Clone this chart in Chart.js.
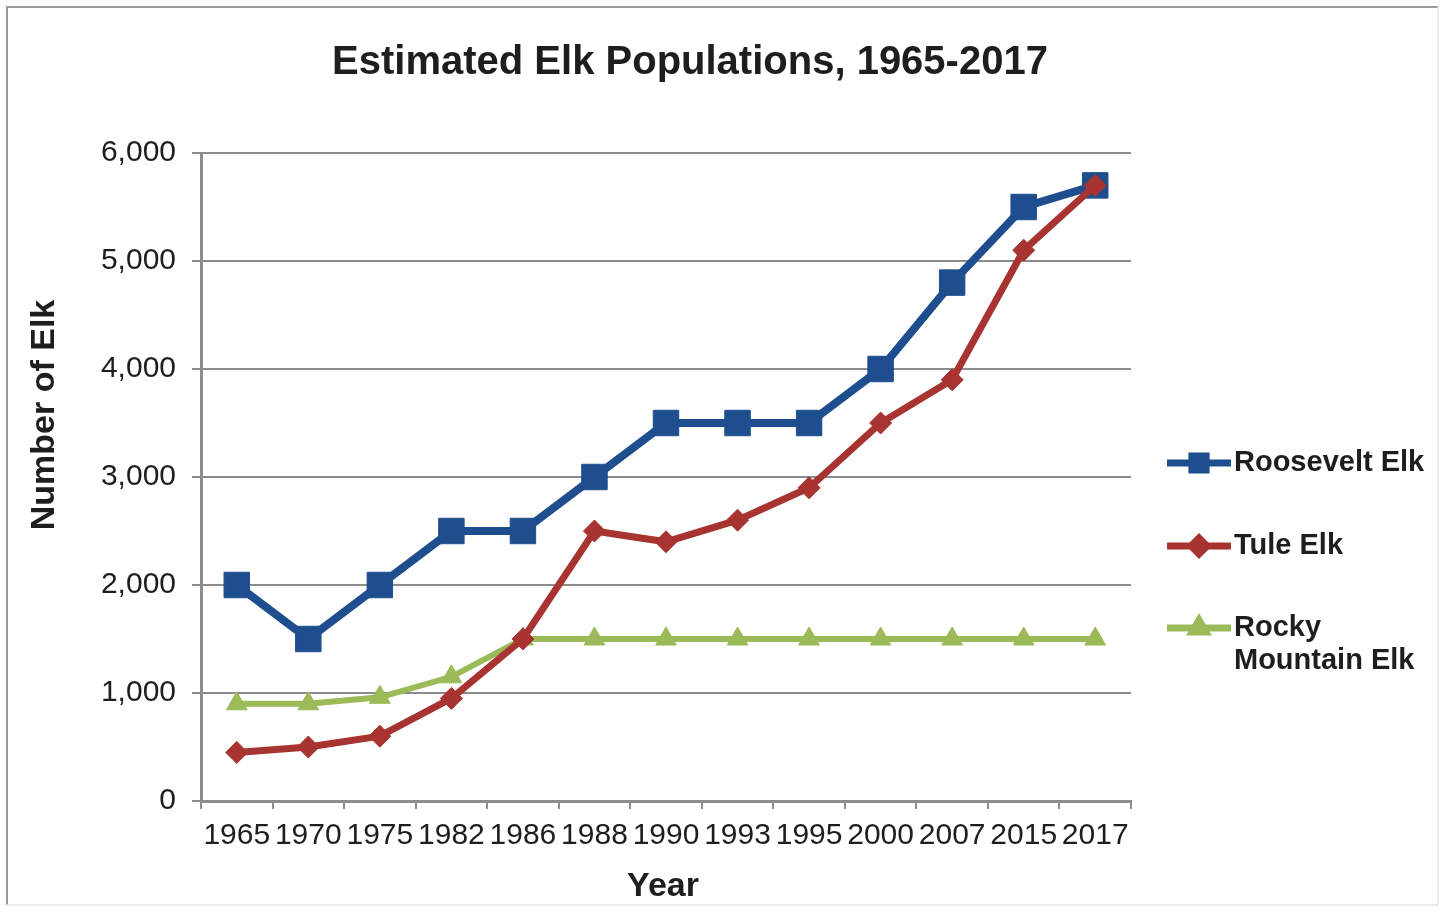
<!DOCTYPE html>
<html>
<head>
<meta charset="utf-8">
<script src="https://cdn.jsdelivr.net/npm/chart.js@4/dist/chart.umd.min.js"></script>
<style>
  html, body { margin: 0; padding: 0; background: #ffffff; }
  #wrap { width: 1447px; height: 917px; position: relative; }
  canvas { display: block; }
</style>
</head>
<body>
<div id="wrap"><canvas id="elk" width="1447" height="917"></canvas></div>
<script>
// Survey years shown on the category axis
const years = ['1965', '1970', '1975', '1982', '1986', '1988', '1990', '1993', '1995', '2000', '2007', '2015', '2017'];

// Estimated herd sizes per subspecies
const rooseveltElk = [2000, 1500, 2000, 2500, 2500, 3000, 3500, 3500, 3500, 4000, 4800, 5500, 5700];
const tuleElk      = [450, 500, 600, 950, 1500, 2500, 2400, 2600, 2900, 3500, 3900, 5100, 5700];
const rockyMountainElk = [900, 900, 960, 1150, 1500, 1500, 1500, 1500, 1500, 1500, 1500, 1500, 1500];

// Value axis ticks
const yTicks = [0, 1000, 2000, 3000, 4000, 5000, 6000];

const chartTitle = 'Estimated Elk Populations, 1965-2017';
const xTitle = 'Year';
const yTitle = 'Number of Elk';
const legendLabels = [['Roosevelt Elk'], ['Tule Elk'], ['Rocky', 'Mountain Elk']];

const FONT = '"Liberation Sans", Arial, sans-serif';
const TEXT = '#1e1e1e';
const GRID = '#8c8c8c';

const BLUE = '#1f4e8f';
const RED = '#a83431';
const GREEN = '#9bbb59';

// Frame, title, axis titles and the side legend
const decorations = {
  id: 'decorations',
  beforeDraw(chart) {
    const ctx = chart.ctx;
    ctx.save();
    ctx.fillStyle = '#ffffff';
    ctx.fillRect(0, 0, chart.width, chart.height);
    // outer frame
    ctx.strokeStyle = '#9a9a9a';
    ctx.lineWidth = 2;
    ctx.beginPath();
    ctx.moveTo(7, 905); ctx.lineTo(7, 7); ctx.lineTo(1438, 7);
    ctx.stroke();
    ctx.strokeStyle = '#ececec';
    ctx.beginPath();
    ctx.moveTo(1438, 7); ctx.lineTo(1438, 905); ctx.lineTo(7, 905);
    ctx.stroke();
    ctx.restore();
  },
  afterDraw(chart) {
    const ctx = chart.ctx;
    const area = chart.chartArea;
    ctx.save();
    ctx.fillStyle = TEXT;
    ctx.textBaseline = 'middle';
    ctx.textAlign = 'center';

    ctx.font = 'bold 40px ' + FONT;
    ctx.fillText(chartTitle, 690, 63);

    ctx.font = 'bold 34px ' + FONT;
    ctx.fillText(xTitle, (area.left + area.right) / 2 - 3, 887);

    ctx.save();
    ctx.translate(45, 415);
    ctx.rotate(-Math.PI / 2);
    ctx.fillText(yTitle, 0, 0);
    ctx.restore();

    // legend
    const rows = [463, 546, 628];
    ctx.textAlign = 'left';
    ctx.font = 'bold 29px ' + FONT;
    chart.data.datasets.forEach((ds, i) => {
      const y = rows[i];
      ctx.strokeStyle = ds.borderColor;
      ctx.lineWidth = 7;
      ctx.beginPath();
      ctx.moveTo(1167, y);
      ctx.lineTo(1231, y);
      ctx.stroke();
      ctx.fillStyle = ds.borderColor;
      ctx.strokeStyle = ds.borderColor;
      Chart.helpers.drawPoint(ctx, { pointStyle: ds.pointStyle, radius: ds.legendRadius, borderWidth: 1 }, 1199, y);
      ctx.fillStyle = TEXT;
      legendLabels[i].forEach((line, k) => {
        ctx.fillText(line, 1234, y + k * 33);
      });
    });
    ctx.restore();
  }
};

new Chart(document.getElementById('elk'), {
  type: 'line',
  data: {
    labels: years,
    datasets: [
      {
        label: 'Roosevelt Elk',
        data: rooseveltElk,
        borderColor: BLUE,
        backgroundColor: BLUE,
        borderWidth: 8,
        pointStyle: 'rect',
        pointRadius: 18,
        pointBorderWidth: 1,
        pointBackgroundColor: BLUE,
        pointBorderColor: BLUE,
        legendRadius: 10,
        tension: 0,
        order: 3
      },
      {
        label: 'Tule Elk',
        data: tuleElk,
        borderColor: RED,
        backgroundColor: RED,
        borderWidth: 7,
        pointStyle: 'rectRot',
        pointRadius: 11,
        pointBorderWidth: 1,
        pointBackgroundColor: RED,
        pointBorderColor: RED,
        legendRadius: 8,
        tension: 0,
        order: 1
      },
      {
        label: 'Rocky Mountain Elk',
        data: rockyMountainElk,
        borderColor: GREEN,
        backgroundColor: GREEN,
        borderWidth: 6,
        pointStyle: 'triangle',
        pointRadius: 12,
        pointBorderWidth: 1,
        pointBackgroundColor: GREEN,
        pointBorderColor: GREEN,
        legendRadius: 8,
        tension: 0,
        order: 2
      }
    ]
  },
  options: {
    responsive: false,
    animation: false,
    events: [],
    layout: { padding: { top: 153, right: 316, bottom: 0, left: 0 } },
    plugins: {
      legend: { display: false },
      title: { display: false },
      tooltip: { enabled: false }
    },
    scales: {
      x: {
        type: 'category',
        offset: true,
        grid: {
          offset: true,
          drawOnChartArea: false,
          drawTicks: true,
          tickLength: 8,
          color: GRID,
          lineWidth: 2
        },
        border: { display: true, color: GRID, width: 3 },
        ticks: {
          color: TEXT,
          font: { family: FONT, size: 30 },
          padding: 9,
          maxRotation: 0,
          autoSkip: false
        },
        afterFit(scale) { scale.height = 116; }
      },
      y: {
        min: 0,
        max: 6000,
        afterBuildTicks(scale) { scale.ticks = yTicks.map(v => ({ value: v })); },
        grid: {
          color: GRID,
          lineWidth: 2,
          drawTicks: true,
          tickLength: 9
        },
        border: { display: true, color: GRID, width: 3 },
        ticks: {
          color: TEXT,
          font: { family: FONT, size: 30 },
          padding: 16,
          callback: v => v.toLocaleString('en-US')
        },
        afterFit(scale) { scale.width = 201; }
      }
    }
  },
  plugins: [decorations]
});
</script>
</body>
</html>
